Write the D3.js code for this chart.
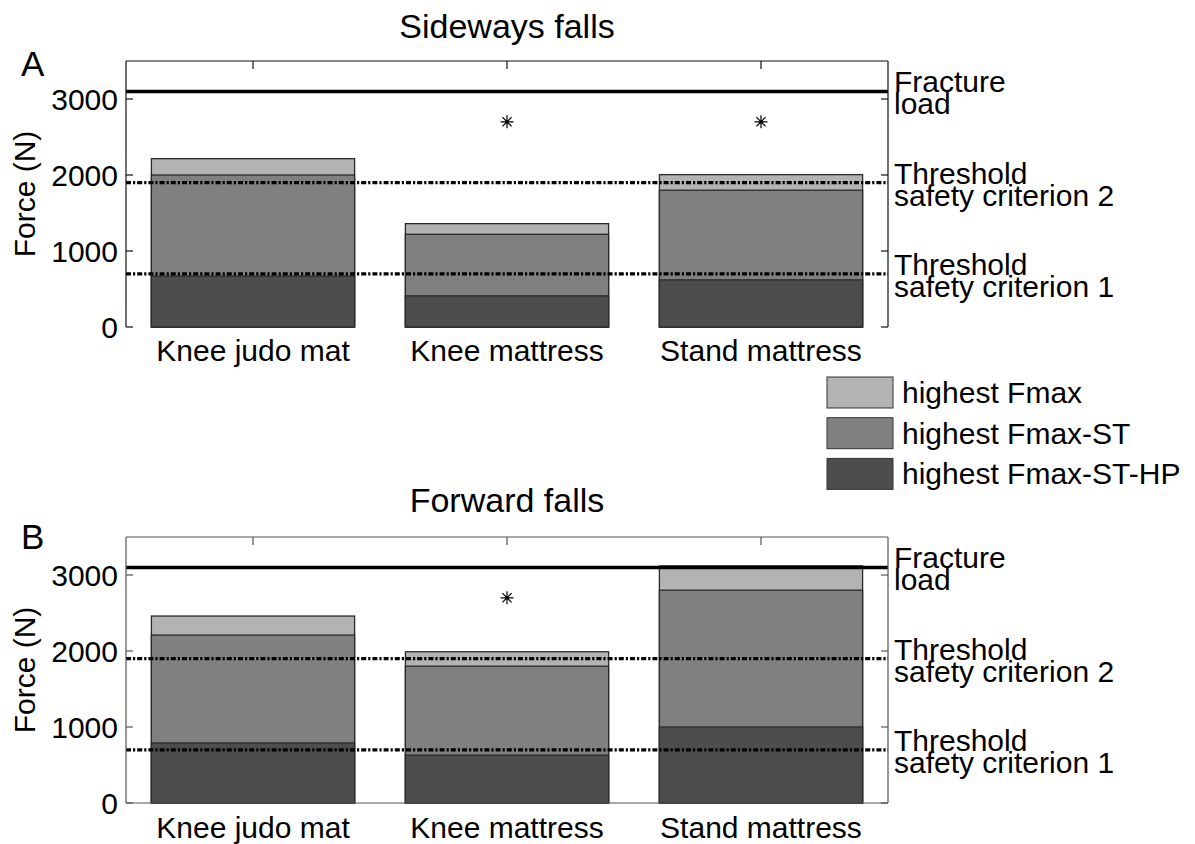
<!DOCTYPE html>
<html><head><meta charset="utf-8">
<script src="https://cdn.jsdelivr.net/npm/d3@7"></script>
<style>body{margin:0;background:#fff}svg{display:block}text{font-family:"Liberation Sans",Arial,sans-serif;fill:#000}</style>
</head><body><svg id="c" width="1195" height="844"></svg>
<script>
const categories = ["Knee judo mat", "Knee mattress", "Stand mattress"];
const yTicks = [0, 1000, 2000, 3000];
const seriesNames = ["highest Fmax", "highest Fmax-ST", "highest Fmax-ST-HP"];
const seriesColors = ["#b3b3b3", "#808080", "#4d4d4d"];
// Panel A: Sideways falls
const sideFmax = [2215, 1360, 2005];
const sideFmaxST = [2000, 1220, 1800];
const sideFmaxSTHP = [670, 410, 620];
const sideStars = [null, 2700, 2700];
// Panel B: Forward falls
const fwdFmax = [2460, 1990, 3120];
const fwdFmaxST = [2210, 1800, 2800];
const fwdFmaxSTHP = [790, 630, 1000];
const fwdStars = [null, 2700, null];
// reference lines
const refValues = [3100, 1900, 700];
const refLabels = [["Fracture", "load"], ["Threshold", "safety criterion 2"], ["Threshold", "safety criterion 1"]];

const svg = d3.select("#c");
const FS = 30;

function panel(opts) {
  const {top, bottom, title, titleY, letter, letterY, series, stars, boxColor, bottomLine, labelY} = opts;
  const x = d3.scaleBand().domain(categories).range([126, 888]).padding(0);
  const y = d3.scaleLinear().domain([0, 3500]).range([bottom, top]);
  const g = svg.append("g");
  const bw = x.bandwidth();

  // bars (overlapping, drawn tallest first)
  series.forEach((vals, si) => {
    g.selectAll(null).data(categories).enter().append("rect")
      .attr("x", d => x(d) + bw * 0.1)
      .attr("width", bw * 0.8)
      .attr("y", (d, i) => y(vals[i]))
      .attr("height", (d, i) => y(0) - y(vals[i]))
      .attr("fill", seriesColors[si])
      .attr("stroke", "#2a2a2a").attr("stroke-width", 1.3);
  });

  // reference lines
  refValues.forEach((v, i) => {
    g.append("line").attr("x1", 126).attr("x2", 888).attr("y1", y(v)).attr("y2", y(v))
      .attr("stroke", "#000")
      .attr("stroke-width", i === 0 ? 3.5 : 3.2)
      .attr("stroke-dasharray", i === 0 ? null : "5,2,2.2,2");
    const t = g.append("text").attr("x", 894).attr("font-size", FS);
    t.append("tspan").attr("x", 894).attr("y", y(v) + 1).text(refLabels[i][0]);
    t.append("tspan").attr("x", 894).attr("y", y(v) + 23).text(refLabels[i][1]);
  });

  // asterisks
  const star = "M0,-6.5V6.5M-6.5,0H6.5M-4.6,-4.6L4.6,4.6M-4.6,4.6L4.6,-4.6";
  stars.forEach((s, i) => {
    if (s == null) return;
    g.append("path").attr("d", star)
      .attr("transform", `translate(${x(categories[i]) + bw / 2},${y(s)})`)
      .attr("stroke", "#000").attr("stroke-width", 1.2).attr("fill", "none");
  });

  // axes box
  const ax = g.append("g").attr("stroke", boxColor).attr("stroke-width", 1.2).attr("fill", "none");
  ax.append("line").attr("x1", 126).attr("x2", 126).attr("y1", top).attr("y2", bottom);
  ax.append("line").attr("x1", 888).attr("x2", 888).attr("y1", top).attr("y2", bottom);
  ax.append("line").attr("x1", 126).attr("x2", 888).attr("y1", top).attr("y2", top);
  if (bottomLine) ax.append("line").attr("x1", 126).attr("x2", 888).attr("y1", bottom).attr("y2", bottom);

  // y ticks left/right inward
  yTicks.forEach(t => {
    ax.append("line").attr("x1", 126).attr("x2", 133).attr("y1", y(t)).attr("y2", y(t));
    ax.append("line").attr("x1", 888).attr("x2", 881).attr("y1", y(t)).attr("y2", y(t));
  });
  g.selectAll(null).data(yTicks).enter().append("text")
    .attr("x", 118).attr("y", d => y(d) + 10.5).attr("text-anchor", "end")
    .attr("font-size", FS).text(d => d);
  // x ticks top inward
  categories.forEach(c => {
    const cx = x(c) + bw / 2;
    ax.append("line").attr("x1", cx).attr("x2", cx).attr("y1", top).attr("y2", top + 8);
  });
  g.selectAll(null).data(categories).enter().append("text")
    .attr("x", d => x(d) + bw / 2).attr("y", labelY).attr("text-anchor", "middle")
    .attr("font-size", FS).text(d => d);

  // y label
  g.append("text").attr("transform", `translate(35,${(top + bottom) / 2}) rotate(-90)`)
    .attr("text-anchor", "middle").attr("font-size", FS).text("Force (N)");
  // title
  g.append("text").attr("x", 507).attr("y", titleY).attr("text-anchor", "middle")
    .attr("font-size", 34).text(title);
  g.append("text").attr("x", 21).attr("y", letterY).attr("font-size", 35).text(letter);
}

panel({top: 61, bottom: 327, title: "Sideways falls", titleY: 38, letter: "A", letterY: 76,
  series: [sideFmax, sideFmaxST, sideFmaxSTHP], stars: sideStars, boxColor: "#111", bottomLine: false, labelY: 361});
panel({top: 537, bottom: 803, title: "Forward falls", titleY: 512, letter: "B", letterY: 549,
  series: [fwdFmax, fwdFmaxST, fwdFmaxSTHP], stars: fwdStars, boxColor: "#555", bottomLine: true, labelY: 838});

// legend
const leg = svg.append("g");
seriesNames.forEach((n, i) => {
  const yy = 377 + i * 40.7;
  leg.append("rect").attr("x", 827).attr("y", yy).attr("width", 66).attr("height", 31)
    .attr("fill", seriesColors[i]).attr("stroke", "#333").attr("stroke-width", 1);
  leg.append("text").attr("x", 902).attr("y", yy + 26).attr("font-size", FS).text(n);
});
</script></body></html>
